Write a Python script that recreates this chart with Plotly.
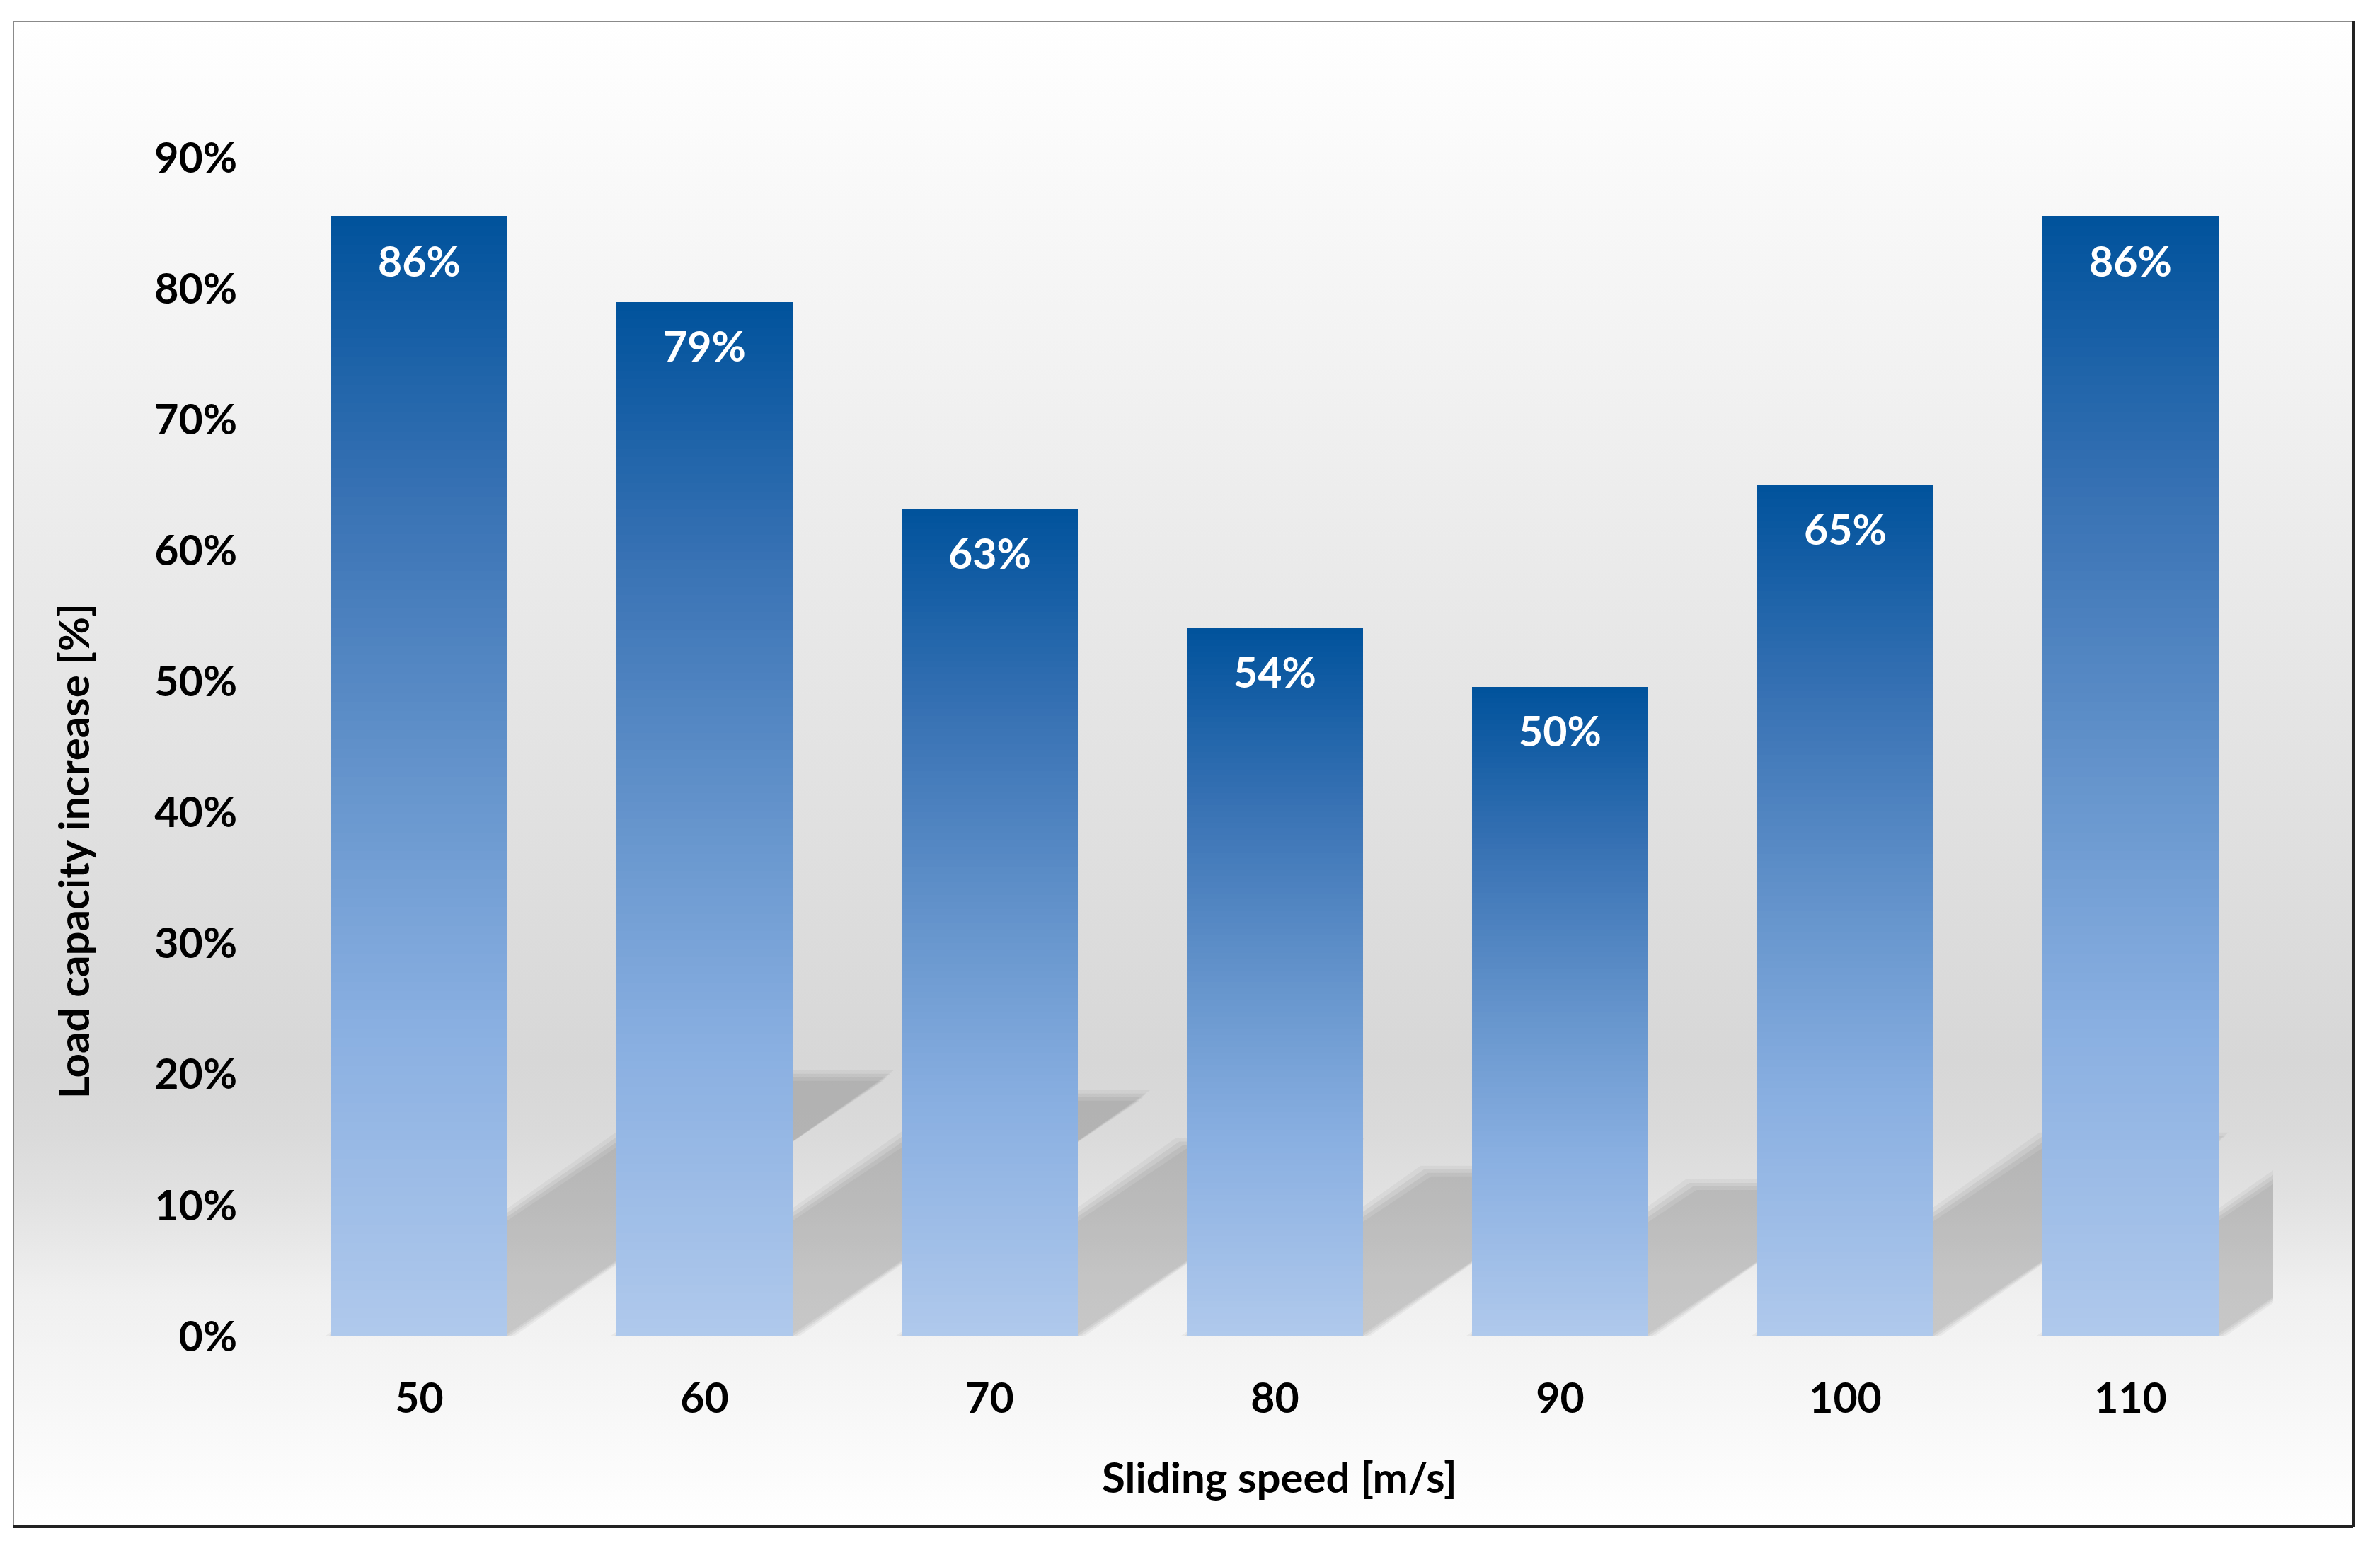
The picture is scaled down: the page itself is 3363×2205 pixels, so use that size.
import base64
import plotly.graph_objects as go

# ---------------- data ----------------
speeds = [50, 60, 70, 80, 90, 100, 110]
speed_labels = ["50", "60", "70", "80", "90", "100", "110"]
load_increase = [0.855, 0.79, 0.632, 0.541, 0.496, 0.65, 0.855]
bar_labels = ["86%", "79%", "63%", "54%", "50%", "65%", "86%"]
y_tick_values = [0.0, 0.1, 0.2, 0.3, 0.4, 0.5, 0.6, 0.7, 0.8, 0.9]
y_tick_labels = ["0%", "10%", "20%", "30%", "40%", "50%", "60%", "70%", "80%", "90%"]
x_title = "Sliding speed [m/s]"
y_title = "Load capacity increase [%]"

# ---------------- layout geometry (pixels) ----------------
W, H = 3363, 2205
ML, MR, MT, MB = 391, 151, 223, 316
PW, PH = W - ML - MR, H - MT - MB
X_RANGE = [45, 115]
Y_RANGE = [0, 0.9]
BAR_W = 6.2
FONT = "Lato"
FS = 59


def px_to_paper_x(px):
    return (px - ML) / PW


def px_to_paper_y(py):
    return (H - MB - py) / PH


# ---------------- bar gradient ----------------
grad_stops = [
    (0.00, (0, 82, 156)),
    (0.25, (56, 114, 180)),
    (0.50, (101, 148, 204)),
    (0.72, (137, 175, 225)),
    (1.00, (176, 201, 236)),
]


def grad_color(f):
    for (f0, c0), (f1, c1) in zip(grad_stops[:-1], grad_stops[1:]):
        if f <= f1:
            t = (f - f0) / (f1 - f0) if f1 > f0 else 0
            c = [round(a + (b - a) * t) for a, b in zip(c0, c1)]
            return "rgb(%d,%d,%d)" % tuple(c)
    return "rgb(%d,%d,%d)" % grad_stops[-1][1]


fig = go.Figure()

N = 120
for k in range(N):
    frac = k / N
    fig.add_trace(go.Bar(
        x=speeds,
        y=[v * (1 - frac) for v in load_increase],
        width=BAR_W,
        marker=dict(color=grad_color(frac + 0.5 / N), line=dict(width=0)),
        hoverinfo="skip",
        showlegend=False,
    ))

# ---------------- shadows (derived from values) ----------------
px_per_x = PW / (X_RANGE[1] - X_RANGE[0])
px_per_y = PH / (Y_RANGE[1] - Y_RANGE[0])
RISE_RATIO = 0.232      # shadow rise relative to bar height
SLOPE = 0.684           # dy/dx in pixels
shapes = []
for s, v in zip(speeds, load_increase):
    rise = RISE_RATIO * v
    dx = rise * px_per_y / SLOPE / px_per_x
    for d, a in [(9, 0.04), (4, 0.05), (-1, 0.05), (-6, 0.04)]:
        ex = d / px_per_x
        ey = d / px_per_y
        xl = s - BAR_W / 2 - ex
        xr = s + BAR_W / 2 + ex
        top = rise + ey
        path = "M %f,0 L %f,0 L %f,%f L %f,%f Z" % (xl, xr, xr + dx, top, xl + dx, top)
        shapes.append(dict(type="path", path=path, xref="x", yref="y", layer="below",
                           fillcolor="rgba(0,0,0,%g)" % a, line=dict(width=0)))

# ---------------- frame ----------------
BOX = (19, 30, 3325, 2158)
shapes.append(dict(type="rect", xref="paper", yref="paper",
                   x0=px_to_paper_x(BOX[0]), x1=px_to_paper_x(BOX[2]),
                   y0=px_to_paper_y(BOX[3]), y1=px_to_paper_y(BOX[1]),
                   line=dict(color="#8a8a8a", width=2), fillcolor="rgba(0,0,0,0)", layer="above"))
shapes.append(dict(type="line", xref="paper", yref="paper",
                   x0=px_to_paper_x(BOX[2]), x1=px_to_paper_x(BOX[2]),
                   y0=px_to_paper_y(BOX[3]), y1=px_to_paper_y(BOX[1]),
                   line=dict(color="#222222", width=4), layer="above"))
shapes.append(dict(type="line", xref="paper", yref="paper",
                   x0=px_to_paper_x(BOX[0]), x1=px_to_paper_x(BOX[2]),
                   y0=px_to_paper_y(BOX[3]), y1=px_to_paper_y(BOX[3]),
                   line=dict(color="#222222", width=4), layer="above"))

# background gradient inside the frame (SVG image)
bg_stops = [(0.0, 255), (0.691, 215), (0.738, 218), (0.785, 226), (0.846, 240), (0.879, 243), (1.0, 255)]
stops_svg = "".join("<stop offset='%g' stop-color='rgb(%d,%d,%d)'/>" % (o, c, c, c) for o, c in bg_stops)
svg = ("<svg xmlns='http://www.w3.org/2000/svg' width='100' height='1000' viewBox='0 0 100 1000' "
       "preserveAspectRatio='none'><defs><linearGradient id='g' x1='0' y1='0' x2='0' y2='1'>"
       + stops_svg + "</linearGradient></defs><rect width='100' height='1000' fill='url(#g)'/></svg>")
svg_uri = "data:image/svg+xml;base64," + base64.b64encode(svg.encode()).decode()

images = [dict(source=svg_uri, xref="paper", yref="paper",
               x=px_to_paper_x(BOX[0]), y=px_to_paper_y(BOX[1]),
               sizex=px_to_paper_x(BOX[2]) - px_to_paper_x(BOX[0]),
               sizey=px_to_paper_y(BOX[1]) - px_to_paper_y(BOX[3]),
               xanchor="left", yanchor="top", sizing="stretch", layer="below")]

# ---------------- annotations ----------------
annotations = []
for s, v, lab in zip(speeds, load_increase, bar_labels):
    annotations.append(dict(x=s, y=v, xref="x", yref="y", text=lab, showarrow=False,
                            yanchor="middle", yshift=-62,
                            font=dict(family=FONT, size=FS, color="white", weight="bold")))
annotations.append(dict(x=px_to_paper_x(1808), y=px_to_paper_y(2087), xref="paper", yref="paper",
                        text=x_title, showarrow=False, xanchor="center", yanchor="middle",
                        font=dict(family=FONT, size=FS + 1, color="black", weight="bold")))
annotations.append(dict(x=px_to_paper_x(103), y=px_to_paper_y(1203), xref="paper", yref="paper",
                        text=y_title, showarrow=False, textangle=-90, xanchor="center", yanchor="middle",
                        font=dict(family=FONT, size=FS + 1, color="black", weight="bold")))

fig.update_layout(
    width=W, height=H,
    margin=dict(l=ML, r=MR, t=MT, b=MB, pad=0),
    paper_bgcolor="white",
    plot_bgcolor="rgba(0,0,0,0)",
    barmode="overlay",
    bargap=0,
    showlegend=False,
    shapes=shapes,
    images=images,
    annotations=annotations,
    xaxis=dict(range=X_RANGE, tickmode="array", tickvals=speeds, ticktext=speed_labels,
               showgrid=False, zeroline=False, showline=False, ticks="",
               ticklabelstandoff=48,
               tickfont=dict(family=FONT, size=FS, color="black", weight="bold")),
    yaxis=dict(range=Y_RANGE, tickmode="array", tickvals=y_tick_values, ticktext=y_tick_labels,
               showgrid=False, zeroline=False, showline=False, ticks="",
               ticklabelstandoff=55,
               tickfont=dict(family=FONT, size=FS, color="black", weight="bold")),
)

fig.write_html("out.html", config={"displayModeBar": False},
               post_script="document.body.style.margin='0px';")
